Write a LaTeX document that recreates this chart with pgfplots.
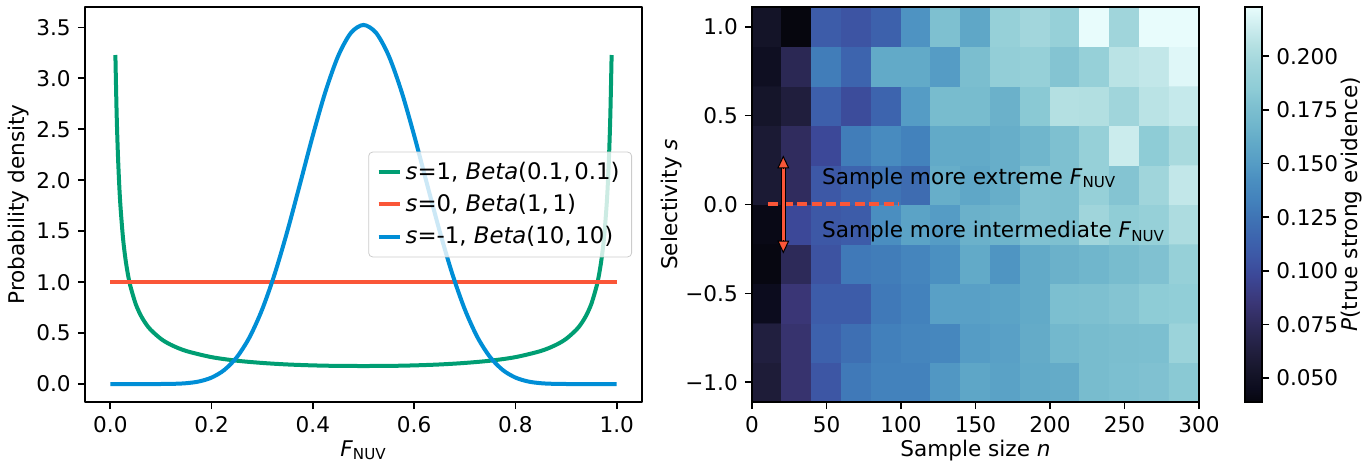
\documentclass[border=0pt]{standalone}
\usepackage{fontspec}
\setmainfont{DejaVu Sans}
\usepackage{pgfplots}
\pgfplotsset{compat=1.18}
\usetikzlibrary{arrows.meta}

\definecolor{sgreen}{RGB}{0,158,115}
\definecolor{sred}{RGB}{250,86,56}
\definecolor{sblue}{RGB}{0,142,214}

\pgfplotsset{
  every axis/.append style={
    font=\fontsize{10.8}{13}\selectfont,
    scale only axis,
    axis line style={line width=0.9pt},
    tick align=outside,
    major tick length=3.6pt,
    every tick/.append style={black, line width=0.85pt},
    /pgf/number format/assume math mode=true,
    xlabel shift=-3pt,
  },
  colormap={evid}{rgb255(38.8pt)=(6,6,14); rgb255(45pt)=(12,12,30); rgb255(52pt)=(20,20,40);
    rgb255(60pt)=(30,28,56); rgb255(72pt)=(43,40,84); rgb255(76pt)=(48,44,94);
    rgb255(85pt)=(58,54,118); rgb255(98pt)=(60,72,152); rgb255(107pt)=(61,88,166);
    rgb255(115pt)=(61,100,174); rgb255(125pt)=(63,116,181); rgb255(133pt)=(67,130,188);
    rgb255(142pt)=(74,142,192); rgb255(150pt)=(85,156,197); rgb255(160pt)=(98,170,200);
    rgb255(168pt)=(112,182,204); rgb255(177pt)=(126,192,208); rgb255(185pt)=(142,204,214);
    rgb255(190pt)=(150,208,216); rgb255(197pt)=(162,214,220); rgb255(205pt)=(180,224,226);
    rgb255(212pt)=(200,234,236); rgb255(223pt)=(232,252,252)},
}

\begin{document}
\begin{tikzpicture}
\useasboundingbox (0,0) rectangle (684.5pt,232pt);

% left panel: beta densities
\begin{axis}[
    at={(42.5pt,31pt)}, anchor=south west,
    width=278.5pt, height=197.5pt,
    xmin=-0.05, xmax=1.05, ymin=-0.1762, ymax=3.7002,
    xtick pos=left, ytick pos=left,
    xtick={0,0.2,0.4,0.6,0.8,1.0},
    ytick={0,0.5,1,1.5,2,2.5,3,3.5},
    xticklabel style={/pgf/number format/.cd,fixed,fixed zerofill,precision=1},
    yticklabel style={/pgf/number format/.cd,fixed,fixed zerofill,precision=1},
    xlabel={\textit{F}\textsubscript{NUV}},
    ylabel={Probability density},
    ylabel shift=-3pt,
    legend style={at={(1,0.5)}, xshift=-5pt, anchor=east,
        font=\fontsize{11.4}{13.2}\selectfont,
        draw=black!20, rounded corners=2pt, fill=white, fill opacity=0.8,
        text opacity=1, row sep=2pt, inner xsep=4pt, inner ysep=3pt,
        cells={anchor=west}},
    legend image code/.code={\draw[#1] (0pt,0pt) -- (10.5pt,0pt);},
    line join=round,
  ]
  \addplot[sgreen, line width=2pt, smooth] coordinates {
    (0.01,3.229) (0.0125,2.648) (0.015,2.253) (0.0175,1.965) (0.02,1.747)
    (0.025,1.435) (0.03,1.224) (0.035,1.070) (0.04,0.954) (0.05,0.787)
    (0.06,0.675) (0.07,0.593) (0.08,0.531) (0.1,0.443) (0.12,0.384)
    (0.15,0.324) (0.2,0.264) (0.25,0.229) (0.3,0.207) (0.35,0.192)
    (0.4,0.183) (0.45,0.178) (0.5,0.177) (0.55,0.178) (0.6,0.183)
    (0.65,0.192) (0.7,0.207) (0.75,0.229) (0.8,0.264) (0.85,0.324)
    (0.88,0.384) (0.9,0.443) (0.92,0.531) (0.93,0.593) (0.94,0.675)
    (0.95,0.787) (0.96,0.954) (0.965,1.070) (0.97,1.224) (0.975,1.435)
    (0.98,1.747) (0.9825,1.965) (0.985,2.253) (0.9875,2.648) (0.99,3.229)
  };
  \addlegendentry{\textit{s}=1, \textit{Beta}(0.1,\,0.1)}
  \addplot[sred, line width=2pt] coordinates {(0,1) (1,1)};
  \addlegendentry{\textit{s}=0, \textit{Beta}(1,\,1)}
  \addplot[sblue, line width=2pt, smooth] coordinates {
    (0,0) (0.05,0) (0.1,0.0004) (0.125,0.0021) (0.15,0.0082) (0.175,0.0252)
    (0.2,0.0635) (0.225,0.1377) (0.25,0.2645) (0.275,0.4596) (0.3,0.7335)
    (0.325,1.0866) (0.35,1.5075) (0.375,1.9711) (0.4,2.4404) (0.425,2.8717)
    (0.45,3.2194) (0.475,3.4454) (0.5,3.524) (0.525,3.4454) (0.55,3.2194)
    (0.575,2.8717) (0.6,2.4404) (0.625,1.9711) (0.65,1.5075) (0.675,1.0866)
    (0.7,0.7335) (0.725,0.4596) (0.75,0.2645) (0.775,0.1377) (0.8,0.0635)
    (0.825,0.0252) (0.85,0.0082) (0.875,0.0021) (0.9,0.0004) (0.95,0) (1,0)
  };
  \addlegendentry{\textit{s}=-1, \textit{Beta}(10,\,10)}
\end{axis}

% right panel: heatmap
\begin{axis}[
    at={(376pt,31pt)}, anchor=south west,
    width=223.5pt, height=197.5pt,
    xmin=0, xmax=300, ymin=-1.1111, ymax=1.1111,
    xtick pos=left, ytick pos=left,
    xtick={0,50,100,150,200,250,300},
    ytick={-1,-0.5,0,0.5,1},
    yticklabels={−1.0,−0.5,0.0,0.5,1.0},
    xlabel={Sample size \textit{n}},
    ylabel={Selectivity \textit{s}},
    ylabel shift=-5pt,
    colormap name=evid,
    point meta min=0.0388, point meta max=0.223,
    colorbar,
    colorbar style={
        at={(parent axis.north east)}, anchor=north west, xshift=14.5pt,
        width=8.5pt,
        xtick=\empty,
        ytick pos=right, yticklabel pos=right,
        ytick={0.05,0.075,0.1,0.125,0.15,0.175,0.2},
        yticklabel style={/pgf/number format/.cd,fixed,fixed zerofill,precision=3},
        ylabel={\textit{P}(true strong evidence)},
        ylabel shift=-5.5pt,
    },
    axis on top,
  ]
  \addplot[matrix plot*, mesh/cols=15, point meta=explicit] table[x=n, y=s, meta=p] {
n s p
10 -1 0.060
30 -1 0.082
50 -1 0.106
70 -1 0.128
90 -1 0.133
110 -1 0.133
130 -1 0.147
150 -1 0.157
170 -1 0.154
190 -1 0.160
210 -1 0.161
230 -1 0.173
250 -1 0.176
270 -1 0.178
290 -1 0.183
10 -0.7778 0.063
30 -0.7778 0.082
50 -0.7778 0.113
70 -0.7778 0.122
90 -0.7778 0.132
110 -0.7778 0.135
130 -0.7778 0.137
150 -0.7778 0.150
170 -0.7778 0.153
190 -0.7778 0.161
210 -0.7778 0.170
230 -0.7778 0.173
250 -0.7778 0.175
270 -0.7778 0.176
290 -0.7778 0.193
10 -0.5556 0.045
30 -0.5556 0.085
50 -0.5556 0.110
70 -0.5556 0.110
90 -0.5556 0.128
110 -0.5556 0.133
130 -0.5556 0.153
150 -0.5556 0.153
170 -0.5556 0.155
190 -0.5556 0.160
210 -0.5556 0.176
230 -0.5556 0.177
250 -0.5556 0.180
270 -0.5556 0.185
290 -0.5556 0.187
10 -0.3333 0.040
30 -0.3333 0.074
50 -0.3333 0.104
70 -0.3333 0.128
90 -0.3333 0.130
110 -0.3333 0.135
130 -0.3333 0.143
150 -0.3333 0.160
170 -0.3333 0.146
190 -0.3333 0.160
210 -0.3333 0.165
230 -0.3333 0.168
250 -0.3333 0.173
270 -0.3333 0.178
290 -0.3333 0.190
10 -0.1111 0.042
30 -0.1111 0.098
50 -0.1111 0.107
70 -0.1111 0.110
90 -0.1111 0.142
110 -0.1111 0.155
130 -0.1111 0.150
150 -0.1111 0.165
170 -0.1111 0.167
190 -0.1111 0.178
210 -0.1111 0.177
230 -0.1111 0.196
250 -0.1111 0.186
270 -0.1111 0.190
290 -0.1111 0.202
10 0.1111 0.058
30 0.1111 0.076
50 0.1111 0.107
70 0.1111 0.115
90 0.1111 0.125
110 0.1111 0.120
130 0.1111 0.163
150 0.1111 0.158
170 0.1111 0.163
190 0.1111 0.178
210 0.1111 0.177
230 0.1111 0.190
250 0.1111 0.180
270 0.1111 0.196
290 0.1111 0.210
10 0.3333 0.058
30 0.3333 0.076
50 0.3333 0.098
70 0.3333 0.130
90 0.3333 0.140
110 0.3333 0.133
130 0.3333 0.160
150 0.3333 0.160
170 0.3333 0.163
190 0.3333 0.168
210 0.3333 0.177
230 0.3333 0.190
250 0.3333 0.213
270 0.3333 0.185
290 0.3333 0.200
10 0.5556 0.053
30 0.5556 0.062
50 0.5556 0.112
70 0.5556 0.100
90 0.5556 0.115
110 0.5556 0.150
130 0.5556 0.173
150 0.5556 0.173
170 0.5556 0.165
190 0.5556 0.183
210 0.5556 0.205
230 0.5556 0.204
250 0.5556 0.196
270 0.5556 0.207
290 0.5556 0.211
10 0.7778 0.048
30 0.7778 0.072
50 0.7778 0.130
70 0.7778 0.115
90 0.7778 0.160
110 0.7778 0.160
130 0.7778 0.150
150 0.7778 0.175
170 0.7778 0.188
190 0.7778 0.190
210 0.7778 0.180
230 0.7778 0.190
250 0.7778 0.207
270 0.7778 0.210
290 0.7778 0.220
10 1 0.052
30 1 0.0388
50 1 0.110
70 1 0.105
90 1 0.113
110 1 0.145
130 1 0.177
150 1 0.158
170 1 0.190
190 1 0.197
210 1 0.190
230 1 0.223
250 1 0.196
270 1 0.223
290 1 0.223
  };
  % annotations
  \draw[sred, line width=2pt, dash pattern=on 5pt off 2.2pt] (axis cs:11,0) -- (axis cs:98,0);
  \draw[black, line width=2.6pt] (axis cs:21,-0.21) -- (axis cs:21,0.21);
  \draw[sred, line width=1.6pt] (axis cs:21,-0.215) -- (axis cs:21,0.215);
  \draw[black, line width=0.5pt, -{Triangle[width=6pt,length=6.5pt,fill=sred]}] (axis cs:21,0.2) -- (axis cs:21,0.276);
  \draw[black, line width=0.5pt, -{Triangle[width=6pt,length=6.5pt,fill=sred]}] (axis cs:21,-0.2) -- (axis cs:21,-0.276);
  \node[anchor=base west, inner sep=0pt] at (axis cs:46.8,0.114) {Sample more extreme \textit{F}\textsubscript{NUV}};
  \node[anchor=base west, inner sep=0pt] at (axis cs:46.8,-0.186) {Sample more intermediate \textit{F}\textsubscript{NUV}};
\end{axis}
\end{tikzpicture}
\end{document}
